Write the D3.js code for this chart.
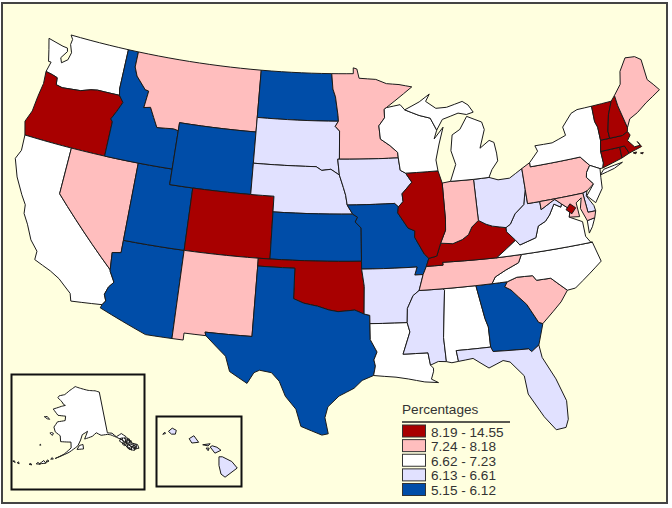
<!DOCTYPE html>
<html>
<head>
<meta charset="utf-8">
<script src="https://cdn.jsdelivr.net/npm/d3@7"></script>
<style>
  html, body { margin: 0; padding: 0; background: #fff; }
  text { font-family: "Liberation Sans", Arial, sans-serif; }
</style>
</head>
<body>
<div id="chart"></div>
<script>
// Legend classes, highest first
var classLabels = ["8.19 - 14.55", "7.24 - 8.18", "6.62 - 7.23", "6.13 - 6.61", "5.15 - 6.12"];
var classColors = ["#a80000", "#ffbebe", "#ffffff", "#e1e1ff", "#004da8"];

// Which states fall in which class
var classA = ["OR", "CO", "IL", "KY", "OK", "VT", "NH", "MA", "CT", "RI", "DC"];
var classB = ["MT", "NV", "NM", "MN", "ME", "PA", "IN", "TN", "SC", "MD"];
var classC = ["WA", "CA", "WI", "MI", "NY", "NJ", "VA", "NC", "LA", "AL", "AK"];
var classD = ["SD", "NE", "IA", "OH", "WV", "AR", "MS", "FL", "DE", "HI"];
var classE = ["ID", "WY", "ND", "UT", "AZ", "KS", "MO", "TX", "GA"];

// State outlines as [lon, lat] rings
var WA = [[[-124.7,48.38],[-124.4,47.7],[-124.1,46.95],[-123.85,46.95],[-124.05,46.28],[-123.4,46.2],[-122.9,46.1],[-122.8,45.65],[-122.2,45.57],[-121.2,45.65],[-120.5,45.7],[-119.6,45.92],[-119,46],[-116.92,46],[-117.04,46.4],[-117.04,49],[-122.76,49],[-122.5,48.75],[-122.55,48.4],[-122.25,47.9],[-122.4,47.4],[-122.9,47.1],[-123.1,47.4],[-122.65,47.9],[-122.75,48.12],[-123.2,48.15]]];
var OR = [[[-124.05,46.28],[-123.95,45.5],[-124.1,44.6],[-124.2,43.6],[-124.55,42.84],[-124.2,42],[-117.03,42],[-117.03,44.25],[-117.22,44.4],[-116.85,44.95],[-116.47,45.6],[-116.92,46],[-119,46],[-119.6,45.92],[-120.5,45.7],[-121.2,45.65],[-122.2,45.57],[-122.8,45.65],[-122.9,46.1],[-123.4,46.2]]];
var CA = [[[-124.2,42],[-124.1,41],[-124.4,40.4],[-123.8,39.3],[-123,38.3],[-122.5,37.75],[-122.4,37.2],[-121.9,36.6],[-121.3,35.7],[-120.6,35.1],[-120.6,34.55],[-119.2,34.1],[-118.4,33.75],[-117.3,33],[-117.12,32.53],[-114.72,32.72],[-114.5,33],[-114.7,33.4],[-114.5,33.9],[-114.15,34.27],[-114.6,34.9],[-114.63,35],[-120,39],[-120,42]]];
var NV = [[[-120,42],[-117.03,42],[-114.04,42],[-114.04,36.2],[-114.74,36.1],[-114.63,35],[-120,39]]];
var AZ = [[[-114.04,37],[-109.05,37],[-109.05,31.33],[-111.07,31.33],[-114.81,32.5],[-114.72,32.72],[-114.5,33],[-114.7,33.4],[-114.5,33.9],[-114.15,34.27],[-114.6,34.9],[-114.63,35],[-114.74,36.1],[-114.04,36.2]]];
var UT = [[[-114.04,42],[-111.05,42],[-111.05,41],[-109.05,41],[-109.05,37],[-114.04,37]]];
var ID = [[[-117.04,49],[-116.05,49],[-116.05,48],[-115.7,47.45],[-114.7,46.7],[-114.35,46.65],[-114.5,45.55],[-113.9,45.65],[-113.45,45.05],[-113,44.45],[-111.5,44.55],[-111.05,44.48],[-111.05,42],[-114.04,42],[-117.03,42],[-117.03,44.25],[-117.22,44.4],[-116.85,44.95],[-116.47,45.6],[-116.92,46],[-117.04,46.4]]];
var MT = [[[-116.05,49],[-104.05,49],[-104.05,45],[-111.05,45],[-111.05,44.48],[-111.5,44.55],[-113,44.45],[-113.45,45.05],[-113.9,45.65],[-114.5,45.55],[-114.35,46.65],[-114.7,46.7],[-115.7,47.45],[-116.05,48]]];
var WY = [[[-111.05,45],[-104.05,45],[-104.05,41],[-109.05,41],[-111.05,41]]];
var CO = [[[-109.05,41],[-104.05,41],[-102.05,41],[-102.05,37],[-103,37],[-109.05,37]]];
var NM = [[[-109.05,37],[-103,37],[-103,36.5],[-103.04,32],[-106.62,32],[-106.53,31.78],[-108.2,31.78],[-108.2,31.33],[-109.05,31.33]]];
var ND = [[[-104.05,49],[-97.23,49],[-97.1,48],[-96.85,47.5],[-96.6,46.3],[-96.56,45.93],[-104.05,45.94]]];
var SD = [[[-104.05,45.94],[-96.56,45.93],[-96.85,45.6],[-96.45,45.3],[-96.45,43.5],[-96.6,43.5],[-96.45,42.49],[-97.2,42.85],[-98,42.77],[-98.5,43],[-104.05,43]]];
var NE = [[[-104.05,43],[-98.5,43],[-98,42.77],[-97.2,42.85],[-96.45,42.49],[-96.1,41.7],[-95.9,41.2],[-95.77,40.58],[-95.31,40],[-102.05,40],[-102.05,41],[-104.05,41]]];
var KS = [[[-102.05,40],[-95.31,40],[-94.9,39.8],[-95.1,39.5],[-94.61,39.11],[-94.62,37],[-102.05,37]]];
var OK = [[[-103,37],[-102.05,37],[-94.62,37],[-94.62,36.5],[-94.43,35.4],[-94.48,33.64],[-95.2,33.9],[-96.5,33.8],[-97.2,33.9],[-98.1,34.13],[-99.2,34.3],[-100,34.56],[-100,36.5],[-103,36.5]]];
var TX = [[[-103,36.5],[-100,36.5],[-100,34.56],[-99.2,34.3],[-98.1,34.13],[-97.2,33.9],[-96.5,33.8],[-95.2,33.9],[-94.48,33.64],[-94.04,33.55],[-94.04,33.02],[-94.04,32],[-93.55,31.2],[-93.8,30.7],[-93.7,30.3],[-93.85,29.7],[-94.7,29.4],[-95.3,28.9],[-96.4,28.4],[-97.2,27.7],[-97.4,27],[-97.15,25.96],[-97.6,25.87],[-99.1,26.4],[-99.5,27.5],[-100.3,28.3],[-100.8,29.25],[-101.4,29.77],[-102.3,29.88],[-102.7,29.7],[-103.15,28.98],[-104.5,29.65],[-104.9,30.6],[-106.53,31.78],[-106.62,32],[-103.04,32]]];
var MN = [[[-97.23,49],[-95.15,49],[-95.15,49.38],[-94.8,49.3],[-94.6,48.7],[-93,48.6],[-92,48.3],[-90.8,48.2],[-89.6,48],[-92.1,46.75],[-92.3,46.65],[-92.3,46.1],[-92.85,45.6],[-92.75,44.75],[-91.9,44.3],[-91.25,43.85],[-91.22,43.5],[-96.45,43.5],[-96.45,45.3],[-96.85,45.6],[-96.56,45.93],[-96.6,46.3],[-96.85,47.5],[-97.1,48]]];
var IA = [[[-96.6,43.5],[-96.45,43.5],[-91.22,43.5],[-91.1,42.7],[-90.65,42.5],[-90.15,41.9],[-91.05,41.2],[-91,40.7],[-91.42,40.38],[-91.73,40.61],[-95.77,40.58],[-95.9,41.2],[-96.1,41.7],[-96.45,42.49]]];
var MO = [[[-95.77,40.58],[-91.73,40.61],[-91.42,40.38],[-91.5,40],[-90.7,39],[-90.15,38.8],[-90.2,38.4],[-89.5,37.3],[-89.15,37],[-89.4,36.5],[-89.7,36],[-90.37,36],[-90.15,36.5],[-94.62,36.5],[-94.62,37],[-94.61,39.11],[-95.1,39.5],[-94.9,39.8],[-95.31,40]]];
var AR = [[[-94.62,36.5],[-90.15,36.5],[-90.37,36],[-89.7,36],[-90.1,35],[-90.6,34.7],[-91.1,33.9],[-91.17,33],[-94.04,33.02],[-94.04,33.55],[-94.48,33.64],[-94.43,35.4]]];
var LA = [[[-94.04,33.02],[-91.17,33],[-91,32.4],[-91.6,31],[-89.73,31],[-89.6,30.2],[-89.4,30],[-89.4,29.8],[-89.6,29.3],[-89.1,29.05],[-90.1,29.15],[-91.3,29.4],[-92.2,29.55],[-93.85,29.7],[-93.7,30.3],[-93.8,30.7],[-93.55,31.2],[-94.04,32]]];
var MS = [[[-90.1,35],[-88.2,35],[-88.1,34.9],[-88.47,31.9],[-88.4,30.35],[-89,30.4],[-89.6,30.2],[-89.73,31],[-91.6,31],[-91,32.4],[-91.17,33],[-91.1,33.9],[-90.6,34.7]]];
var AL = [[[-88.2,35],[-85.6,35],[-85.18,32.85],[-85,32.3],[-85,31],[-87.6,31],[-87.5,30.3],[-88,30.25],[-88.4,30.35],[-88.47,31.9],[-88.1,34.9]]];
var GA = [[[-85.6,35],[-84.32,35],[-83.1,35],[-83.35,34.7],[-82.9,34.45],[-81.85,33.4],[-81.15,32.15],[-80.85,32.03],[-81.4,30.72],[-82,30.37],[-82.2,30.57],[-84.86,30.7],[-85,31],[-85,32.3],[-85.18,32.85]]];
var FL = [[[-87.6,31],[-85,31],[-84.86,30.7],[-82.2,30.57],[-82,30.37],[-81.4,30.72],[-81.3,29.9],[-80.55,28.4],[-80.05,26.9],[-80.15,25.7],[-80.4,25.2],[-81.1,25.15],[-81.8,26.1],[-82.7,27.7],[-82.8,28.9],[-83.7,29.9],[-84.2,30.05],[-85.3,29.68],[-86.4,30.4],[-87.5,30.3]]];
var SC = [[[-83.35,34.7],[-83.1,35],[-82.3,35.2],[-81.05,35.15],[-80.8,34.82],[-79.67,34.8],[-78.55,33.86],[-79.2,33.2],[-79.9,32.7],[-80.85,32.03],[-81.15,32.15],[-81.85,33.4],[-82.9,34.45]]];
var NC = [[[-84.32,35],[-83.1,35],[-82.3,35.2],[-81.05,35.15],[-80.8,34.82],[-79.67,34.8],[-78.55,33.86],[-77.9,33.9],[-76.55,34.65],[-75.5,35.25],[-75.87,36.55],[-81.68,36.59],[-82,36.1],[-83.1,35.75],[-84,35.4]]];
var TN = [[[-90.1,35],[-89.7,36],[-89.4,36.5],[-88.05,36.5],[-88.07,36.68],[-83.68,36.6],[-81.68,36.59],[-82,36.1],[-83.1,35.75],[-84,35.4],[-84.32,35],[-85.6,35],[-88.2,35]]];
var KY = [[[-89.4,36.5],[-89.15,37],[-88.5,37.1],[-88.1,37.9],[-87.1,37.8],[-86.3,38],[-85.75,38.27],[-85.4,38.73],[-84.8,39.1],[-84.2,38.8],[-83.7,38.63],[-82.6,38.42],[-82.6,38.15],[-81.97,37.54],[-83.68,36.6],[-88.07,36.68],[-88.05,36.5]]];
var VA = [[[-83.68,36.6],[-81.97,37.54],[-81.68,37.2],[-80.3,37.5],[-79.95,38.2],[-79.3,38.42],[-78.87,38.77],[-78.35,39.4],[-77.83,39.13],[-77.72,39.32],[-77.1,38.87],[-77.3,38.4],[-76.3,37.95],[-76.3,37],[-75.98,36.55],[-75.87,36.55],[-81.68,36.59]],
          [[-75.25,38.03],[-75.9,37.95],[-75.95,37.15],[-75.6,37.5]]];
var WV = [[[-82.6,38.42],[-82.6,38.15],[-81.97,37.54],[-81.68,37.2],[-80.3,37.5],[-79.95,38.2],[-79.3,38.42],[-78.87,38.77],[-78.35,39.4],[-77.83,39.13],[-77.72,39.32],[-78.2,39.68],[-78.4,39.62],[-79.48,39.2],[-79.48,39.72],[-80.52,39.72],[-80.52,40.64],[-80.85,39.7],[-81.7,39.2],[-82.2,38.6]]];
var OH = [[[-84.8,39.1],[-84.8,41.73],[-83.45,41.73],[-82.7,41.5],[-81.7,41.5],[-80.52,41.98],[-80.52,40.64],[-80.85,39.7],[-81.7,39.2],[-82.2,38.6],[-82.6,38.42],[-83.7,38.63],[-84.2,38.8]]];
var IN = [[[-87.53,41.7],[-86.8,41.76],[-84.8,41.73],[-84.8,39.1],[-85.4,38.73],[-85.75,38.27],[-86.3,38],[-87.1,37.8],[-88.1,37.9],[-87.6,38.7],[-87.53,39.35]]];
var IL = [[[-90.65,42.5],[-87.8,42.5],[-87.53,41.7],[-87.53,39.35],[-87.6,38.7],[-88.1,37.9],[-88.5,37.1],[-89.15,37],[-89.5,37.3],[-90.2,38.4],[-90.15,38.8],[-90.7,39],[-91.5,40],[-91.42,40.38],[-91,40.7],[-91.05,41.2],[-90.15,41.9]]];
var WI = [[[-90.65,42.5],[-87.8,42.5],[-87.9,43.2],[-87.5,44.2],[-87,45.25],[-87.9,44.55],[-87.6,45.1],[-88.1,45.9],[-89.1,46.13],[-90.4,46.55],[-90.8,46.9],[-92.1,46.75],[-92.3,46.65],[-92.3,46.1],[-92.85,45.6],[-92.75,44.75],[-91.9,44.3],[-91.25,43.85],[-91.22,43.5],[-91.1,42.7]]];
var MI = [[[-86.8,41.76],[-84.8,41.73],[-83.45,41.73],[-83.1,42.2],[-82.5,42.7],[-82.5,43.2],[-82.6,43.9],[-83,44.07],[-83.9,43.65],[-83.3,44.8],[-83.45,45.3],[-84.75,45.78],[-85.5,45],[-86.25,44.7],[-86.5,43.7],[-86.2,42.8]],
          [[-90.4,46.55],[-89.1,46.13],[-88.1,45.9],[-87.6,45.1],[-87,45.75],[-85.5,46.05],[-84.75,45.9],[-84.1,46],[-84.5,46.5],[-85,46.77],[-86.5,46.5],[-87.5,46.5],[-88.4,47],[-88,47.45],[-89,47]]];
var PA = [[[-80.52,41.98],[-79.76,42.27],[-79.76,42],[-75.35,42],[-74.7,41.35],[-75.1,40.95],[-75.2,40.65],[-74.73,40.15],[-75.4,39.8],[-75.79,39.72],[-79.48,39.72],[-80.52,39.72],[-80.52,40.64]]];
var NY = [[[-79.76,42.27],[-78.9,42.9],[-79.05,43.27],[-77.5,43.25],[-76.2,43.55],[-76.3,44.1],[-75.3,44.85],[-74.7,45],[-73.34,45],[-73.4,44],[-73.25,43.6],[-73.28,42.75],[-73.5,42.05],[-73.5,41.3],[-73.65,41],[-73.9,41],[-74.7,41.35],[-75.35,42],[-79.76,42]],
          [[-74,40.6],[-72.7,40.8],[-71.9,41.05],[-72.6,41],[-73.6,40.9]]];
var NJ = [[[-74.7,41.35],[-73.9,41],[-74,40.45],[-74.1,39.75],[-74.9,38.95],[-75.5,39.5],[-74.73,40.15],[-75.2,40.65],[-75.1,40.95]]];
var DE = [[[-75.79,39.72],[-75.4,39.8],[-75.55,39.5],[-75.1,38.8],[-75.05,38.45],[-75.7,38.46]]];
var MD = [[[-79.48,39.72],[-75.79,39.72],[-75.7,38.46],[-75.05,38.45],[-75.25,38.03],[-75.9,37.95],[-76.25,38.8],[-76,39.45],[-76.5,39.2],[-76.45,38.3],[-77.3,38.4],[-77.1,38.87],[-77.72,39.32],[-78.2,39.68],[-78.4,39.62],[-79.48,39.2]]];
var DC = [[[-77.03,39.22],[-76.62,38.9],[-77.03,38.58],[-77.44,38.9]]];
var CT = [[[-73.5,42.05],[-71.8,42.02],[-71.85,41.32],[-73.65,41],[-73.5,41.3]]];
var RI = [[[-71.8,42.02],[-71.38,42.02],[-71.13,41.5],[-71.85,41.32]]];
var MA = [[[-73.5,42.05],[-73.28,42.75],[-72.46,42.73],[-71.3,42.7],[-70.8,42.87],[-70.65,42.6],[-71,42.3],[-70.55,41.8],[-70.05,41.8],[-70.2,42.08],[-69.95,41.7],[-71.13,41.5],[-71.38,42.02],[-71.8,42.02]],
          [[-70.8,41.45],[-70.5,41.45],[-70.6,41.35]],[[-70.2,41.32],[-69.95,41.3],[-70.05,41.23]]];
var VT = [[[-73.34,45],[-71.5,45],[-72.05,44.2],[-72.45,43.2],[-72.46,42.73],[-73.28,42.75],[-73.25,43.6],[-73.4,44]]];
var NH = [[[-71.5,45],[-71.08,45.3],[-71.03,44.6],[-70.7,43.1],[-70.8,42.87],[-71.3,42.7],[-72.46,42.73],[-72.45,43.2],[-72.05,44.2]]];
var ME = [[[-71.08,45.3],[-70.3,45.9],[-70,46.7],[-69.2,47.45],[-68.3,47.35],[-67.8,47.05],[-67.8,45.7],[-67.4,45.3],[-67,44.85],[-68.5,44.3],[-69.5,43.85],[-70.3,43.6],[-70.7,43.1],[-71.03,44.6]]];

var AK = [[[-141,69.65],[-143.5,70.1],[-148,70.4],[-152,70.85],[-156.6,71.35],[-160,70.4],[-163,69.3],[-166.2,68.85],[-166.8,68.35],[-164,67.6],[-163,67.1],[-161.8,66.9],[-164,66.55],[-168.1,65.65],[-165,64.45],[-161,64.5],[-161,63.5],[-164.7,63],[-166,61.7],[-165,60.7],[-162.5,60],[-162,58.7],[-157.5,58.8],[-157.3,57.5],[-160,56],[-163.3,54.8],[-158,56.5],[-154.5,58],[-153.3,59.3],[-152.5,60.5],[-150,61.2],[-151.5,59.5],[-148,60],[-146,60.7],[-144,60],[-141,59.95],[-139.7,59.7],[-137.5,58.9],[-135.5,58],[-133.5,56.5],[-131.6,55.3],[-130,55],[-130,55.9],[-131.8,56.6],[-133.4,58.4],[-135,59.4],[-137.5,59],[-139,60],[-141,60.3]],
          // Kodiak, Nunivak, St Lawrence, Pribilofs
          [[-154.8,57.2],[-152.1,57.3],[-152.3,58.3],[-153.8,58.1]],
          [[-167.3,60.2],[-166,59.8],[-165.7,60.3],[-166.6,60.4]],
          [[-171.7,63.5],[-170,63.2],[-168.8,63.2],[-170.3,63.7]],
          [[-170.5,57.1],[-170,57.1],[-170.2,57.3]],
          // Aleutians
          [[-172.5,52.3],[-171.5,52.3],[-172,52.6]],[[-176.8,51.8],[-176,51.7],[-176.4,52.1]],[[-178.5,51.8],[-177.5,51.7],[-178,52]],[[-170,52.8],[-168.5,52.9],[-169.5,53.2]],[[-168.8,53],[-166.5,53.4],[-167.5,53.9]],[[-166.5,53.6],[-165.5,54],[-166.2,54.2]],[[-165,54.5],[-164,54.6],[-164.5,54.9]],
          // Panhandle islands
          [[-136.7,57.9],[-135.5,57.2],[-135,57.7],[-135.8,58.2]],[[-134.8,57.3],[-134,56.9],[-133.9,57.5]],[[-134.5,56.2],[-133,55.2],[-132.5,55.8],[-133.5,56.6]],[[-133.2,55.3],[-131.9,54.9],[-131.4,55.6],[-132.5,56]],[[-133.8,57],[-132.8,56.4],[-132.6,56.9]],[[-135,56.8],[-134.1,56],[-133.8,56.5]],[[-132.4,56.5],[-131.5,55.9],[-131.3,56.4]],[[-133.4,57.9],[-132.6,57.2],[-132.4,57.7]],
          [[-136.4,58.4],[-135.3,58],[-135,58.4]],[[-134.6,58.3],[-133.9,57.8],[-133.7,58.2]],[[-135.9,57.2],[-135.2,56.6],[-134.9,57.1]],[[-134.2,55.9],[-133.6,55.4],[-133.3,55.8]],[[-132,55.4],[-131.2,55],[-130.8,55.5]],[[-131.6,56],[-130.7,55.5],[-130.5,56]],[[-132.9,57.3],[-132.1,56.8],[-131.9,57.2]],[[-134.4,57.6],[-133.5,57.3],[-133.3,57.7]]];
var HI = [[[-156.1,20.3],[-155.85,20.3],[-155.15,19.97],[-154.75,19.52],[-155.65,18.88],[-155.95,19.1],[-156.1,19.7]],
          [[-156.75,20.98],[-156.6,21.06],[-156.25,20.96],[-155.95,20.75],[-156.4,20.55]],
          [[-157.3,21.13],[-156.75,21.2],[-156.9,21.05]],
          [[-157.05,20.9],[-156.82,20.9],[-156.9,20.72]],
          [[-158.3,21.55],[-157.95,21.75],[-157.6,21.3],[-158.1,21.25]],
          [[-159.83,22.05],[-159.55,22.27],[-159.25,22.12],[-159.32,21.86],[-159.6,21.86]],
          [[-160.25,21.85],[-160.1,22],[-160.05,21.9]]];

var shapes = { WA:WA, OR:OR, CA:CA, NV:NV, AZ:AZ, UT:UT, ID:ID, MT:MT, WY:WY, CO:CO, NM:NM, ND:ND, SD:SD, NE:NE, KS:KS, OK:OK, TX:TX, MN:MN, IA:IA, MO:MO, AR:AR, LA:LA, MS:MS, AL:AL, GA:GA, FL:FL, SC:SC, NC:NC, TN:TN, KY:KY, VA:VA, WV:WV, OH:OH, IN:IN, IL:IL, WI:WI, MI:MI, PA:PA, NY:NY, NJ:NJ, DE:DE, MD:MD, DC:DC, CT:CT, RI:RI, MA:MA, VT:VT, NH:NH, ME:ME, AK:AK, HI:HI };

var classMembers = [classA, classB, classC, classD, classE];
var stateClass = {};
classMembers.forEach(function (list, i) {
  list.forEach(function (s) { stateClass[s] = classLabels[i]; });
});

var color = d3.scaleOrdinal().domain(classLabels).range(classColors);

var width = 672, height = 508;
var svg = d3.select("#chart").append("svg")
  .attr("width", width)
  .attr("height", height)
  .style("display", "block");

// Page and frame
svg.append("rect").attr("width", width).attr("height", height).attr("fill", "#fff");
svg.append("rect")
  .attr("x", 2).attr("y", 3).attr("width", 665).attr("height", 500)
  .attr("fill", "#ffffdf").attr("stroke", "#444").attr("stroke-width", 2);

// Break long edges up so borders follow the parallels, then fix ring direction for d3.geo
function densify(ring) {
  var out = [];
  ring.forEach(function (p, i) {
    var q = ring[(i + 1) % ring.length];
    var n = Math.max(Math.ceil(Math.abs(q[0] - p[0])), 1);
    for (var k = 0; k < n; k++) {
      out.push([p[0] + (q[0] - p[0]) * k / n, p[1] + (q[1] - p[1]) * k / n]);
    }
  });
  out.push(out[0]);
  if (d3.geoArea({ type: "Polygon", coordinates: [out] }) > 2 * Math.PI) out.reverse();
  return out;
}

function feature(id) {
  return {
    type: "Feature",
    id: id,
    geometry: { type: "MultiPolygon", coordinates: shapes[id].map(function (r) { return [densify(r)]; }) }
  };
}

var mainProjection = d3.geoAlbers()
  .rotate([96, 0]).center([0, 37.5]).parallels([29.5, 45.5])
  .scale(893).translate([344.5, 253.5]);

var akProjection = d3.geoAlbers()
  .rotate([154, 0]).center([0, 62]).parallels([55, 65])
  .scale(255).translate([79, 428]);

var hiProjection = d3.geoMercator()
  .center([-157.5, 20.7]).scale(776).translate([200, 451]);

var lower48 = Object.keys(shapes).filter(function (s) { return s !== "AK" && s !== "HI"; });

function drawStates(ids, projection) {
  svg.append("g").selectAll("path")
    .data(ids.map(feature))
    .enter().append("path")
    .attr("d", d3.geoPath(projection))
    .attr("fill", function (d) { return color(stateClass[d.id]); })
    .attr("stroke", "#1a1a1a")
    .attr("stroke-width", 1)
    .attr("stroke-linejoin", "round");
}

drawStates(lower48, mainProjection);

// Inset boxes
svg.append("rect").attr("x", 11.5).attr("y", 374.5).attr("width", 133).attr("height", 115)
  .attr("fill", "none").attr("stroke", "#111").attr("stroke-width", 2);
svg.append("rect").attr("x", 156.5).attr("y", 416.5).attr("width", 85).attr("height", 70)
  .attr("fill", "none").attr("stroke", "#111").attr("stroke-width", 2);

drawStates(["AK"], akProjection);
drawStates(["HI"], hiProjection);

// Legend
var legend = svg.append("g");
legend.append("text").attr("x", 402).attr("y", 414)
  .attr("font-size", 13.6).attr("fill", "#333").text("Percentages");
legend.append("line").attr("x1", 402).attr("x2", 510).attr("y1", 422).attr("y2", 422)
  .attr("stroke", "#222").attr("stroke-width", 1.5);

var rowY = d3.scalePoint().domain(classLabels).range([425, 483.5]);

legend.selectAll("rect").data(classLabels).enter().append("rect")
  .attr("x", 402.5).attr("y", function (d) { return rowY(d); })
  .attr("width", 23).attr("height", 12)
  .attr("fill", function (d) { return color(d); })
  .attr("stroke", "#333").attr("stroke-width", 1);

legend.selectAll("text.row").data(classLabels).enter().append("text")
  .attr("class", "row")
  .attr("x", 431).attr("y", function (d) { return rowY(d) + 11.5; })
  .attr("font-size", 13.6).attr("fill", "#333")
  .text(function (d) { return d; });
</script>
</body>
</html>
